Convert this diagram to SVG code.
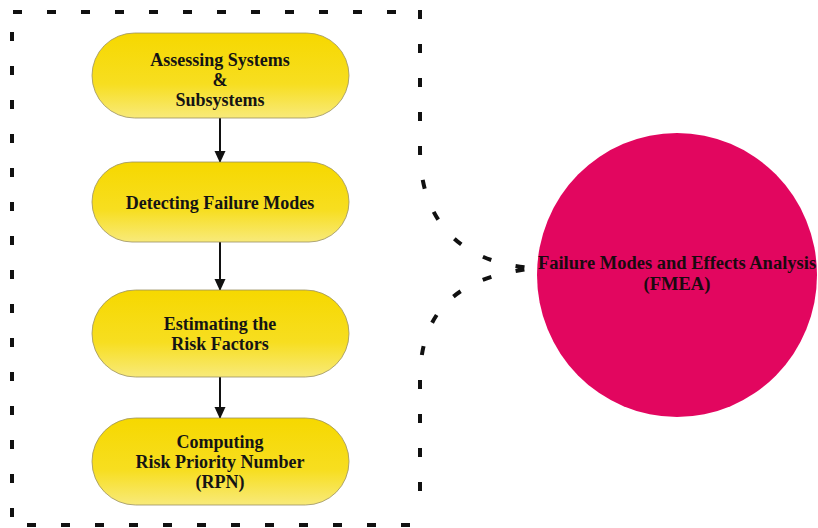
<svg xmlns="http://www.w3.org/2000/svg" width="818" height="528" viewBox="0 0 818 528">
<defs>
<linearGradient id="yg" x1="0" y1="0" x2="0" y2="1">
<stop offset="0" stop-color="#F6D800"/>
<stop offset="0.6" stop-color="#F7DE20"/>
<stop offset="1" stop-color="#F8EA7A"/>
</linearGradient>
<marker id="ah" viewBox="0 0 12 12" refX="11" refY="6" markerWidth="12" markerHeight="12" markerUnits="userSpaceOnUse" orient="auto">
<path d="M0,0.5 L12,6 L0,11.5 z" fill="#111"/>
</marker>
</defs>
<style>
.pill{fill:url(#yg);stroke:#9a9060;stroke-width:0.8}
.t{font-family:"Liberation Serif","Times New Roman",serif;font-weight:bold;font-size:18px;fill:#141414;text-anchor:middle}
.ct{font-family:"Liberation Serif","Times New Roman",serif;font-weight:bold;font-size:18.5px;fill:#1a0a10;text-anchor:middle}
.frame{fill:none;stroke:#111;stroke-width:4;stroke-dasharray:9 25}
.arr{stroke:#111;stroke-width:2;fill:none}
</style>
<rect width="818" height="528" fill="#fff"/>
<g id="frame">
<path class="frame" d="M13 12 H400"/>
<path class="frame" d="M12 32 V520"/>
<path class="frame" d="M27 525 H410"/>
<path class="frame" d="M420 10 V150 C420 220 460 265 537 268 C470 275 420 300 420 380 V515"/>
</g>
<g id="connectors">
<line class="arr" x1="220" y1="118" x2="220" y2="162" marker-end="url(#ah)"/>
<line class="arr" x1="220" y1="242" x2="220" y2="290" marker-end="url(#ah)"/>
<line class="arr" x1="220" y1="377" x2="220" y2="418" marker-end="url(#ah)"/>
</g>
<g id="n1">
<rect class="pill" x="92" y="33" width="257" height="85" rx="42.5"/>
<text class="t" x="220" y="66">Assessing Systems</text>
<text class="t" x="220" y="86">&amp;</text>
<text class="t" x="220" y="106">Subsystems</text>
</g>
<g id="n2">
<rect class="pill" x="92" y="162" width="257" height="80" rx="40"/>
<text class="t" x="220" y="209">Detecting Failure Modes</text>
</g>
<g id="n3">
<rect class="pill" x="92" y="290" width="257" height="87" rx="43.5"/>
<text class="t" x="220" y="330">Estimating the</text>
<text class="t" x="220" y="350">Risk Factors</text>
</g>
<g id="n4">
<rect class="pill" x="92" y="418" width="257" height="87" rx="43.5"/>
<text class="t" x="220" y="448">Computing</text>
<text class="t" x="220" y="468">Risk Priority Number</text>
<text class="t" x="220" y="488">(RPN)</text>
</g>
<g id="fmea">
<ellipse cx="677" cy="275" rx="140" ry="142" fill="#E2065F"/>
<text class="ct" x="677" y="269">Failure Modes and Effects Analysis</text>
<text class="ct" x="677" y="290">(FMEA)</text>
</g>
</svg>
